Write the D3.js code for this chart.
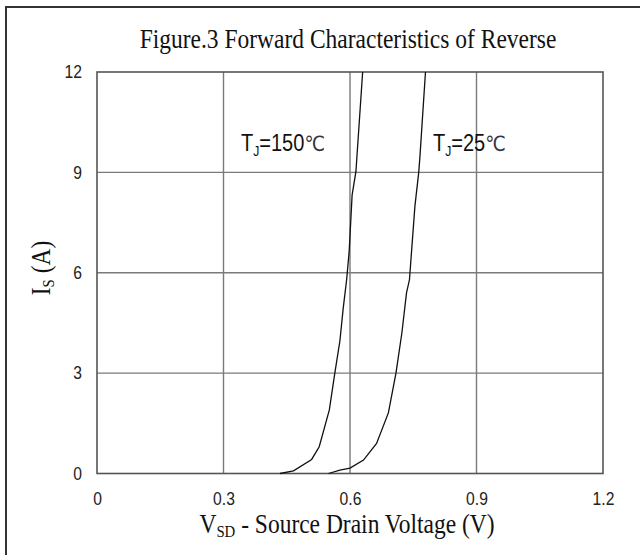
<!DOCTYPE html>
<html><head><meta charset="utf-8">
<script src="https://cdn.jsdelivr.net/npm/d3@7"></script>
<style>body{margin:0;background:#fff}svg{display:block}</style>
</head><body>
<svg id="c" width="640" height="555"></svg>
<script>
const xTicks = [0, 0.3, 0.6, 0.9, 1.2];
const yTicks = [0, 3, 6, 9, 12];
const v150 = [0.434, 0.466, 0.509, 0.527, 0.551, 0.564, 0.576, 0.584, 0.592, 0.598, 0.605, 0.614, 0.630];
const i150 = [0.0, 0.08, 0.42, 0.80, 1.90, 3.0, 3.96, 4.95, 5.79, 6.63, 8.32, 9.02, 12];
const v25 = [0.549, 0.576, 0.600, 0.632, 0.663, 0.691, 0.709, 0.723, 0.734, 0.741, 0.754, 0.763, 0.766, 0.779];
const i25 = [0.0, 0.10, 0.16, 0.40, 0.90, 1.81, 3.0, 4.2, 5.4, 5.79, 8.0, 9.0, 9.5, 12];
const seriesLabels = ["150", "25"];

const SX = 0.87; // horizontal squeeze of all text, as in the reference
const SERIF = "Liberation Serif, Times New Roman, serif";
const SANS = "Liberation Sans, Arial, sans-serif";

const svg = d3.select("#c");
const L = 97, R = 603, T = 72, B = 473.5;
const x = d3.scaleLinear().domain([0, 1.2]).range([L, R]);
const y = d3.scaleLinear().domain([0, 12]).range([B, T]);

function label(px, py, anchor, size, family, rot) {
  return svg.append("text")
    .attr("transform", `translate(${px},${py})` + (rot ? ` rotate(${rot})` : "") + ` scale(${SX},1)`)
    .attr("text-anchor", anchor).attr("font-family", family).attr("font-size", size).attr("fill", "#111");
}

// outer frame
svg.append("rect").attr("x", 6).attr("y", 7).attr("width", 700).attr("height", 700)
  .attr("fill", "none").attr("stroke", "#333").attr("stroke-width", 2);

// title
label(348, 48, "middle", 27, SERIF).text("Figure.3 Forward Characteristics of Reverse");

// grid
const g = svg.append("g");
g.selectAll(".vg").data(xTicks.slice(1, -1)).enter().append("line")
  .attr("x1", d => x(d)).attr("x2", d => x(d)).attr("y1", T).attr("y2", B)
  .attr("stroke", "#7a7a7a").attr("stroke-width", 1.4);
g.selectAll(".hg").data(yTicks.slice(1, -1)).enter().append("line")
  .attr("x1", L).attr("x2", R).attr("y1", d => y(d)).attr("y2", d => y(d))
  .attr("stroke", "#7a7a7a").attr("stroke-width", 1.4);
g.append("rect").attr("x", L).attr("y", T).attr("width", R - L).attr("height", B - T)
  .attr("fill", "none").attr("stroke", "#555").attr("stroke-width", 1.6);

// axes with labels
const xAxis = d3.axisBottom(x).tickValues(xTicks).tickSize(0).tickPadding(18.5)
  .tickFormat(d => d === 0 ? "0" : d3.format(".1f")(d));
const xa = svg.append("g").attr("transform", `translate(0,${B})`).call(xAxis);
xa.select(".domain").remove();
xa.selectAll("text").attr("font-family", SANS).attr("font-size", 18).attr("fill", "#222")
  .attr("transform", `scale(${SX},1)`);

const yAxis = d3.axisLeft(y).tickValues(yTicks).tickSize(0).tickPadding(15);
const ya = svg.append("g").attr("transform", `translate(${L},0)`).call(yAxis);
ya.select(".domain").remove();
ya.selectAll("text").attr("font-family", SANS).attr("font-size", 18).attr("fill", "#222")
  .attr("x", -15 / SX).attr("transform", `scale(${SX},1)`);

// curves
const line = d3.line().x(d => x(d[0])).y(d => y(d[1]));
const s150 = v150.map((v, i) => [v, i150[i]]);
const s25 = v25.map((v, i) => [v, i25[i]]);
svg.selectAll(".curve").data([s150, s25]).enter().append("path")
  .attr("d", line).attr("fill", "none").attr("stroke", "#111").attr("stroke-width", 1.3);

// annotations
function tj(xp, yp, val) {
  const t = label(xp, yp, "start", 23, SANS);
  t.append("tspan").text("T");
  t.append("tspan").attr("font-size", 14).attr("dy", 5).text("J");
  t.append("tspan").attr("dy", -5).text("=" + val);
  t.append("tspan").attr("font-family", "DejaVu Sans, sans-serif").attr("font-size", 21)
    .attr("fill", "#334").text("℃");
}
tj(241, 151, seriesLabels[0]);
tj(433, 151, seriesLabels[1]);

// x title
const xt = label(347, 533, "middle", 27, SERIF);
xt.append("tspan").text("V");
xt.append("tspan").attr("font-size", 17).attr("dy", 4).text("SD");
xt.append("tspan").attr("dy", -4).text(" - Source Drain Voltage (V)");

// y title
const yt = label(50, 268, "middle", 27, SERIF, -90);
yt.append("tspan").text("I");
yt.append("tspan").attr("font-size", 17).attr("dy", 4).text("S");
yt.append("tspan").attr("dy", -4).text(" (A)");
</script>
</body></html>
